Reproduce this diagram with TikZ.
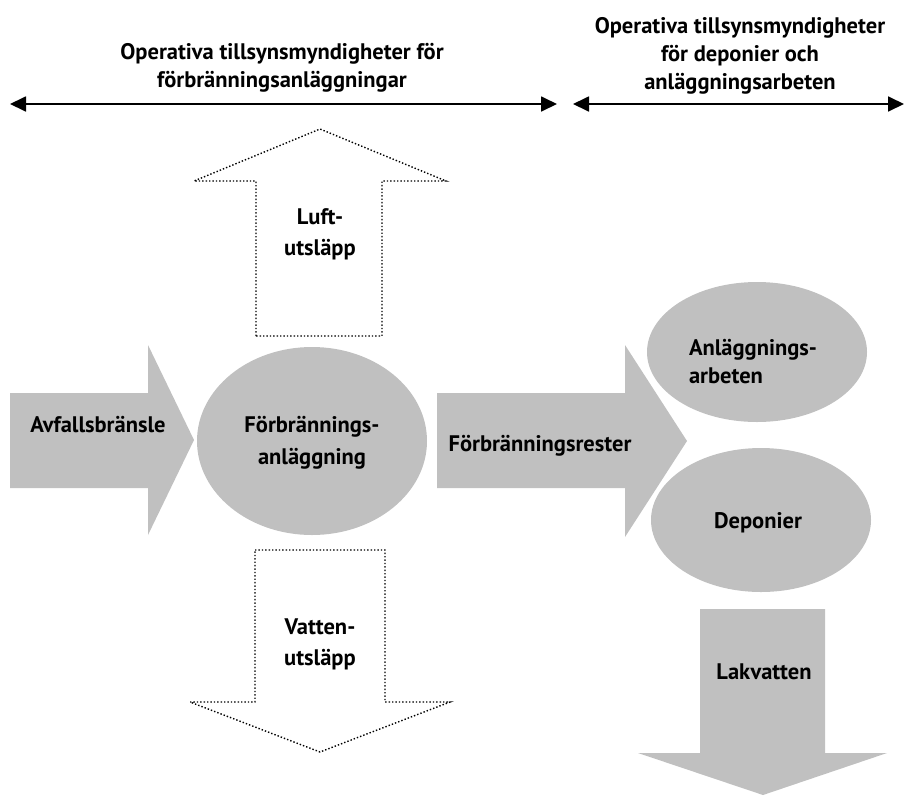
\documentclass[tikz,border=0pt]{standalone}
\usepackage{fontspec}
\setmainfont{PT Sans}
\usetikzlibrary{arrows.meta,shapes.geometric}
\definecolor{shade}{HTML}{C0C0C0}
\begin{document}
\begin{tikzpicture}[x=1pt,y=-1pt,
  lbl/.style={font=\bfseries\fontsize{22.5}{#1}\selectfont, inner sep=0pt, anchor=base, align=center},
  lbl/.default=31,
  grayshape/.style={fill=shade, draw=none},
  dotshape/.style={draw=black, dotted, line width=1.4pt, line join=miter},
  hdrarrow/.style={draw=black, line width=1.8pt, {Triangle[length=16pt,width=15pt]}-{Triangle[length=16pt,width=15pt]}},
  blob/.style={ellipse, fill=shade, draw=none, inner sep=0pt}]
\useasboundingbox (0,0) rectangle (904,796);

% header arrows
\coordinate (h1l) at (10,104);
\coordinate (h1r) at (557,104);
\coordinate (h2l) at (573,104);
\coordinate (h2r) at (904,104);
\draw[hdrarrow] (h1l) -- (h1r);
\draw[hdrarrow] (h2l) -- (h2r);

\node[lbl=28] (hdrA) at (282,87) {Operativa tillsynsmyndigheter för\\förbränningsanläggningar};
\node[lbl=28] (hdrB) at (740,89) {Operativa tillsynsmyndigheter\\för deponier och\\anläggningsarbeten};

% gray arrows
\fill[grayshape] (10,393) -- (148,393) -- (148,345) -- (194,440) -- (148,535) -- (148,488) -- (10,488) -- cycle;
\fill[grayshape] (437,393) -- (625,393) -- (625,345) -- (687,441) -- (625,537) -- (625,488) -- (437,488) -- cycle;
\fill[grayshape] (700,609) -- (825,609) -- (825,753) -- (887,753) -- (763,795) -- (638,753) -- (700,753) -- cycle;

% dotted arrows
\draw[dotshape] (256,336) -- (256,181) -- (194,181) -- (320,129) -- (446,181) -- (382,181) -- (382,336) -- cycle;
\draw[dotshape] (255,550) -- (385,550) -- (385,702) -- (450,702) -- (320,752) -- (190,702) -- (255,702) -- cycle;

% ellipses
\node[blob, minimum width=230pt, minimum height=188pt] (plant) at (312,441) {};
\node[blob, minimum width=220pt, minimum height=140pt] (works) at (757,352) {};
\node[blob, minimum width=220pt, minimum height=144pt] (dump) at (761,520) {};

% labels
\node[lbl] (fuel) at (98,432) {Avfallsbränsle};
\node[lbl=32] (plantlbl) at (312,464) {Förbrännings-\\anläggning};
\node[lbl] (resid) at (540,451) {Förbränningsrester};
\node[lbl=28, align=left] (workslbl) at (753,383) {Anläggnings-\\arbeten};
\node[lbl] (dumplbl) at (758,528) {Deponier};
\node[lbl] (leach) at (764,679) {Lakvatten};
\node[lbl] (air) at (320,255) {Luft-\\utsläpp};
\node[lbl] (water) at (320,665) {Vatten-\\utsläpp};
\end{tikzpicture}
\end{document}
